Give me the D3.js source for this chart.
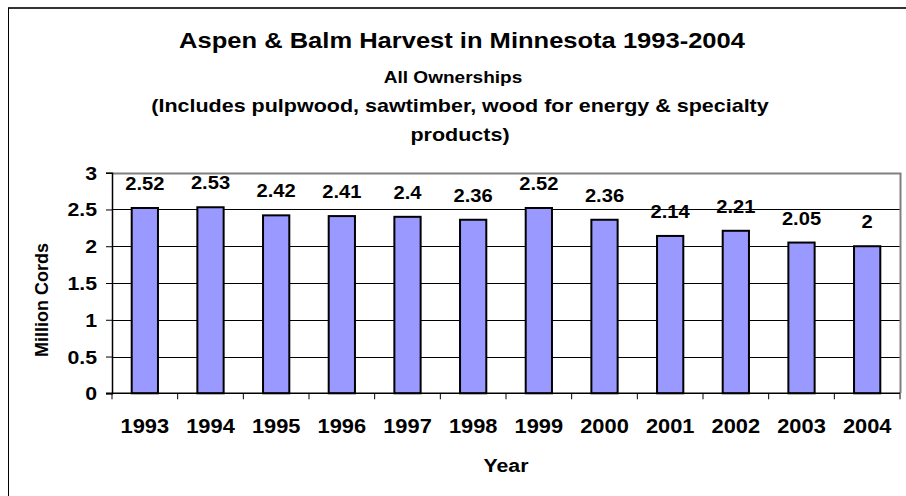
<!DOCTYPE html>
<html>
<head>
  <meta charset="utf-8">
  <script src="https://d3js.org/d3.v7.min.js"></script>
  <style>
    body { margin: 0; background: #fff; }
    svg text { font-family: "Liberation Sans", Arial, sans-serif; font-weight: bold; fill: #000; }
  </style>
</head>
<body>
<div id="chart"></div>
<script>
// data
var years = ["1993", "1994", "1995", "1996", "1997", "1998", "1999", "2000", "2001", "2002", "2003", "2004"];
var harvest = [2.52, 2.53, 2.42, 2.41, 2.4, 2.36, 2.52, 2.36, 2.14, 2.21, 2.05, 2];
var yTicks = [0, 0.5, 1, 1.5, 2, 2.5, 3];
var titleLines = ["Aspen & Balm Harvest in Minnesota 1993-2004", "All Ownerships",
                  "(Includes pulpwood, sawtimber, wood for energy & specialty", "products)"];

var W = 906, H = 496;
var plot = {left: 112, right: 900, top: 172.7, bottom: 393.3};
var sx = 1.12; // the original chart text looks stretched sideways

const svg = d3.select("#chart").append("svg")
  .attr("width", W)
  .attr("height", H);

// outer chart border (only top/left visible, rest is cropped)
svg.append("line").attr("x1", 8).attr("x2", W).attr("y1", 8).attr("y2", 8)
  .attr("stroke", "#333").attr("stroke-width", 2);
svg.append("line").attr("x1", 8.5).attr("x2", 8.5).attr("y1", 8).attr("y2", H)
  .attr("stroke", "#000").attr("stroke-width", 1);

// helper for stretched text
function label(x, y, txt, size, anchor) {
  return svg.append("text")
    .attr("transform", `translate(${x},${y}) scale(${sx},1)`)
    .attr("text-anchor", anchor || "middle")
    .style("font-size", size + "px")
    .text(txt);
}

const x = d3.scaleBand()
  .domain(years)
  .range([plot.left, plot.right])
  .padding(0);

const y = d3.scaleLinear()
  .domain([0, 3])
  .range([plot.bottom, plot.top]);

// gridlines
svg.append("g")
  .selectAll("line")
  .data(yTicks.filter(d => d > 0 && d < 3))
  .join("line")
    .attr("x1", plot.left).attr("x2", plot.right)
    .attr("y1", d => Math.round(y(d)) + 0.5).attr("y2", d => Math.round(y(d)) + 0.5)
    .attr("stroke", "#000").attr("stroke-width", 1);

// plot area border top/right (grey)
svg.append("path")
  .attr("d", `M${plot.left},${Math.round(plot.top) + 0.5}H${plot.right + 0.5}V${plot.bottom}`)
  .attr("fill", "none").attr("stroke", "#808080").attr("stroke-width", 2);

// bars
var bw = x.bandwidth() * 0.4;
svg.append("g")
  .selectAll("rect")
  .data(harvest)
  .join("rect")
    .attr("x", (d, i) => x(years[i]) + (x.bandwidth() - bw) / 2)
    .attr("y", d => y(d))
    .attr("width", bw)
    .attr("height", d => plot.bottom - y(d))
    .attr("fill", "#9999ff")
    .attr("stroke", "#000")
    .attr("stroke-width", 2);

// value labels
harvest.forEach(function(d, i) {
  label(x(years[i]) + x.bandwidth() / 2, y(d) - 18, String(d), 18);
});

// y axis
const yAxis = svg.append("g")
  .attr("transform", `translate(${plot.left},0)`)
  .call(d3.axisLeft(y).tickValues(yTicks).tickSize(6).tickFormat(d => String(d)));
yAxis.select(".domain").attr("stroke", "#000").attr("stroke-width", 1.5);
yAxis.selectAll(".tick line").attr("stroke", "#000");
yAxis.selectAll(".tick text").remove();
yTicks.forEach(function(t) {
  label(plot.left - 15, y(t) + 7, String(t), 19, "end");
});

// x axis line and boundary ticks
svg.append("line")
  .attr("x1", plot.left - 6).attr("x2", plot.right)
  .attr("y1", plot.bottom).attr("y2", plot.bottom)
  .attr("stroke", "#000").attr("stroke-width", 1.5);
var bounds = years.map(d => x(d)).concat([plot.right]);
svg.append("g")
  .selectAll("line")
  .data(bounds)
  .join("line")
    .attr("x1", d => d).attr("x2", d => d)
    .attr("y1", plot.bottom).attr("y2", plot.bottom + 6)
    .attr("stroke", "#000").attr("stroke-width", 1);

years.forEach(function(yr) {
  label(x(yr) + x.bandwidth() / 2, 433, yr, 19.5);
});

// titles
label(462, 48, titleLines[0], 22.8);
label(453, 83, titleLines[1], 17);
label(460, 112, titleLines[2], 19.2);
label(460, 141, titleLines[3], 19.2);

// axis titles
label(506, 472, "Year", 19);
svg.append("text")
  .attr("transform", "translate(48,300) rotate(-90)")
  .attr("text-anchor", "middle")
  .style("font-size", "18px")
  .text("Million Cords");
</script>
</body>
</html>
